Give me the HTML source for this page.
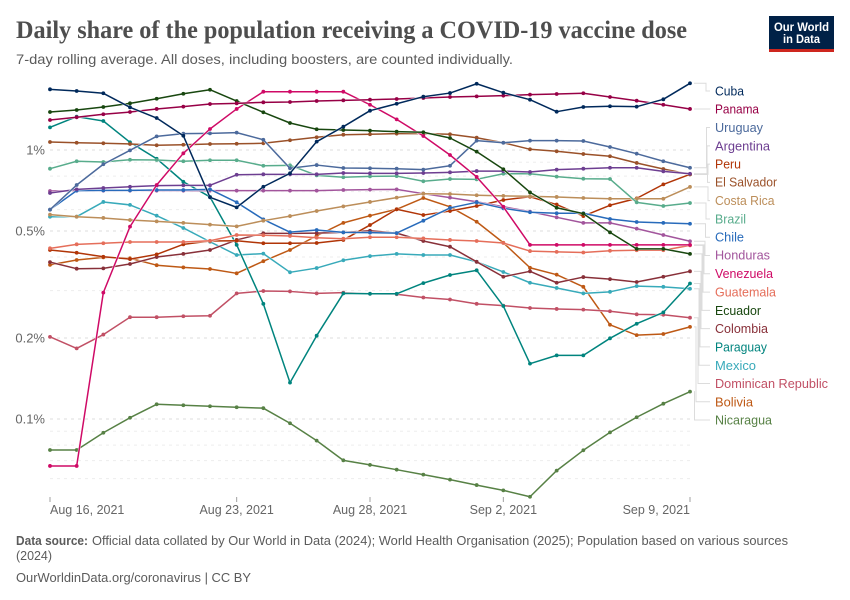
<!DOCTYPE html>
<html lang="en">
<head>
<meta charset="utf-8">
<title>Daily share of the population receiving a COVID-19 vaccine dose</title>
<style>
html,body{margin:0;padding:0;background:#fff;}
svg{display:block;font-family:"Liberation Sans",sans-serif;}
.legend text{font-size:12.5px;}
</style>
</head>
<body>
<svg id="chart" xmlns="http://www.w3.org/2000/svg" width="850" height="600" viewBox="0 0 850 600">
  <rect width="850" height="600" fill="#fff"/>
  <text x="16" y="38" font-family="'Liberation Serif',serif" font-weight="700" font-size="25" fill="#4e4e4e" textLength="671" lengthAdjust="spacingAndGlyphs">Daily share of the population receiving a COVID-19 vaccine dose</text>
  <text x="16" y="64" font-size="14" fill="#5b5b5b" textLength="497" lengthAdjust="spacingAndGlyphs">7-day rolling average. All doses, including boosters, are counted individually.</text>

  <g>
    <rect x="769" y="16" width="65" height="36" fill="#002147"/>
    <rect x="769" y="49" width="65" height="3" fill="#ce261e"/>
    <text x="801.5" y="31" text-anchor="middle" font-size="12" font-weight="700" fill="#fff" textLength="55" lengthAdjust="spacingAndGlyphs">Our World</text>
    <text x="801.5" y="43" text-anchor="middle" font-size="12" font-weight="700" fill="#fff" textLength="37" lengthAdjust="spacingAndGlyphs">in Data</text>
  </g>

  <g id="grid"></g>
  <g id="xaxis"></g>
  <g id="yaxis"></g>
  <g id="connectors"></g>
  <g id="series"></g>

  <g class="legend">
    <text x="715" y="95.5" fill="#00295b" textLength="29" lengthAdjust="spacingAndGlyphs">Cuba</text>
    <text x="715" y="113.5" fill="#970046" textLength="44" lengthAdjust="spacingAndGlyphs">Panama</text>
    <text x="715" y="132" fill="#4c6a9c" textLength="48" lengthAdjust="spacingAndGlyphs">Uruguay</text>
    <text x="715" y="150.5" fill="#6d3e91" textLength="55" lengthAdjust="spacingAndGlyphs">Argentina</text>
    <text x="715" y="168.5" fill="#b13507" textLength="26" lengthAdjust="spacingAndGlyphs">Peru</text>
    <text x="715" y="186.5" fill="#9a5129" textLength="62" lengthAdjust="spacingAndGlyphs">El Salvador</text>
    <text x="715" y="205" fill="#bc8e5a" textLength="59.5" lengthAdjust="spacingAndGlyphs">Costa Rica</text>
    <text x="715" y="223.5" fill="#58ac8c" textLength="31" lengthAdjust="spacingAndGlyphs">Brazil</text>
    <text x="715" y="241.5" fill="#286bbb" textLength="29" lengthAdjust="spacingAndGlyphs">Chile</text>
    <text x="715" y="259.5" fill="#a2559c" textLength="55" lengthAdjust="spacingAndGlyphs">Honduras</text>
    <text x="715" y="278" fill="#cf0a66" textLength="58" lengthAdjust="spacingAndGlyphs">Venezuela</text>
    <text x="715" y="296.5" fill="#e56e5a" textLength="61" lengthAdjust="spacingAndGlyphs">Guatemala</text>
    <text x="715" y="315" fill="#18470f" textLength="46" lengthAdjust="spacingAndGlyphs">Ecuador</text>
    <text x="715" y="333" fill="#883039" textLength="53" lengthAdjust="spacingAndGlyphs">Colombia</text>
    <text x="715" y="351.5" fill="#00847e" textLength="52" lengthAdjust="spacingAndGlyphs">Paraguay</text>
    <text x="715" y="370" fill="#38aaba" textLength="41" lengthAdjust="spacingAndGlyphs">Mexico</text>
    <text x="715" y="388" fill="#c15065" textLength="113" lengthAdjust="spacingAndGlyphs">Dominican Republic</text>
    <text x="715" y="406.5" fill="#be5915" textLength="38" lengthAdjust="spacingAndGlyphs">Bolivia</text>
    <text x="715" y="424.5" fill="#578145" textLength="57" lengthAdjust="spacingAndGlyphs">Nicaragua</text>
  </g>

  <g>
    <text x="16" y="545" font-size="13" font-weight="700" fill="#5b5b5b" textLength="72" lengthAdjust="spacingAndGlyphs">Data source:</text>
    <text x="92" y="545" font-size="13" fill="#5b5b5b" textLength="696" lengthAdjust="spacingAndGlyphs">Official data collated by Our World in Data (2024); World Health Organisation (2025); Population based on various sources</text>
    <text x="16" y="560" font-size="13" fill="#5b5b5b" textLength="36" lengthAdjust="spacingAndGlyphs">(2024)</text>
    <text x="16" y="582" font-size="13" fill="#5b5b5b" textLength="235" lengthAdjust="spacingAndGlyphs">OurWorldinData.org/coronavirus | CC BY</text>
  </g>
</svg>
<script>
// Days since the first plotted date (Aug 16, 2021 = day 0)
const dayOffsets = [0,1,2,3,4,5,6,7,8,9,10,11,12,13,14,15,16,17,18,19,20,21,22,23,24];
const xTickDays = [0,7,12,17,24];
const xTickLabels = ["Aug 16, 2021","Aug 23, 2021","Aug 28, 2021","Sep 2, 2021","Sep 9, 2021"];
const yTickValues = [1,0.5,0.2,0.1];
const yTickLabels = ["1%","0.5%","0.2%","0.1%"];
const gridValues = [1,0.9,0.8,0.7,0.6,0.5,0.4,0.3,0.2,0.1,0.09,0.08,0.07,0.06];

// Share of population, percent, per day
const nicaragua = [.0767,.0767,.0889,.1011,.1134,.1125,.1115,.1106,.1097,.0964,.0831,.0702,.0675,.0648,.0621,.0595,.0568,.0543,.0514,.0643,.0765,.0892,.1015,.1140,.1264];
const bolivia = [.374,.390,.399,.396,.373,.366,.361,.348,.386,.425,.480,.536,.570,.602,.663,.615,.541,.452,.365,.344,.310,.224,.205,.207,.220];
const dominicanRepublic = [.202,.183,.206,.239,.239,.241,.242,.293,.299,.298,.293,.295,.292,.291,.283,.278,.268,.264,.2585,.2565,.255,.2515,.245,.244,.238];
const mexico = [.565,.565,.641,.625,.570,.513,.456,.407,.412,.351,.364,.389,.403,.411,.407,.407,.384,.352,.321,.307,.293,.297,.312,.310,.305];
const paraguay = [1.214,1.330,1.282,1.068,.928,.762,.669,.444,.268,.1365,.204,.293,.292,.292,.320,.343,.357,.263,.1606,.1724,.1724,.1995,.226,.249,.319];
const colombia = [.383,.362,.363,.377,.400,.411,.425,.463,.490,.490,.491,.494,.501,.491,.459,.437,.384,.338,.354,.321,.337,.331,.323,.338,.354];
const ecuador = [1.384,1.408,1.445,1.491,1.551,1.619,1.675,1.521,1.381,1.260,1.194,1.187,1.180,1.170,1.164,1.108,.986,.848,.696,.610,.580,.494,.429,.429,.411];
const guatemala = [.431,.446,.450,.455,.455,.455,.460,.483,.482,.479,.472,.468,.474,.474,.469,.463,.459,.451,.421,.418,.416,.422,.424,.424,.442];
const venezuela = [.0669,.0669,.295,.519,.741,.972,1.197,1.421,1.647,1.647,1.647,1.647,1.473,1.300,1.127,.958,.794,.615,.444,.444,.444,.444,.444,.444,.444];
const honduras = [.704,.706,.706,.706,.706,.706,.706,.706,.706,.706,.706,.710,.712,.714,.688,.665,.642,.615,.590,.562,.536,.536,.510,.483,.458];
const chile = [.600,.706,.708,.708,.710,.710,.714,.639,.552,.495,.504,.494,.493,.491,.546,.609,.639,.607,.587,.582,.582,.554,.540,.536,.532];
const brazil = [.852,.908,.902,.920,.918,.908,.916,.916,.874,.877,.805,.792,.798,.800,.765,.780,.778,.816,.816,.796,.782,.780,.639,.619,.635];
const costaRica = [.575,.565,.559,.549,.543,.536,.528,.520,.546,.568,.593,.617,.641,.665,.688,.686,.679,.675,.673,.669,.663,.659,.659,.659,.729];
const elSalvador = [1.071,1.064,1.059,1.053,1.041,1.046,1.053,1.055,1.059,1.087,1.115,1.140,1.144,1.150,1.150,1.144,1.111,1.064,1.006,.989,.966,.948,.895,.850,.812];
const peru = [.425,.415,.401,.393,.409,.446,.459,.460,.450,.450,.451,.463,.526,.602,.573,.593,.619,.652,.670,.627,.568,.623,.661,.745,.812];
const argentina = [.692,.714,.722,.730,.737,.739,.739,.809,.812,.812,.812,.821,.819,.819,.821,.826,.835,.835,.828,.845,.852,.859,.859,.833,.816];
const uruguay = [.600,.741,.885,.997,1.124,1.150,1.153,1.160,1.092,.855,.879,.857,.855,.852,.845,.874,1.083,1.064,1.083,1.083,1.080,1.026,.969,.908,.859];
const panama = [1.293,1.323,1.358,1.384,1.421,1.449,1.482,1.491,1.504,1.508,1.521,1.530,1.538,1.547,1.561,1.574,1.583,1.592,1.606,1.615,1.625,1.574,1.525,1.473,1.421];
const cuba = [1.681,1.657,1.625,1.441,1.315,1.130,.667,.612,.730,.819,1.074,1.221,1.400,1.486,1.578,1.628,1.763,1.633,1.538,1.388,1.445,1.454,1.449,1.543,1.770];

const seriesList = [
  {key:"nicaragua",values:nicaragua,color:"#578145",legendRow:18,elbow:694.5},
  {key:"bolivia",values:bolivia,color:"#be5915",legendRow:17,elbow:696},
  {key:"dominican-republic",values:dominicanRepublic,color:"#c15065",legendRow:16,elbow:698},
  {key:"mexico",values:mexico,color:"#38aaba",legendRow:15,elbow:699},
  {key:"paraguay",values:paraguay,color:"#00847e",legendRow:14,elbow:700},
  {key:"colombia",values:colombia,color:"#883039",legendRow:13,elbow:701},
  {key:"peru",values:peru,color:"#b13507",legendRow:4,elbow:708},
  {key:"guatemala",values:guatemala,color:"#e56e5a",legendRow:11,elbow:703},
  {key:"honduras",values:honduras,color:"#a2559c",legendRow:9,elbow:705},
  {key:"chile",values:chile,color:"#286bbb",legendRow:8,elbow:705.5},
  {key:"costa-rica",values:costaRica,color:"#bc8e5a",legendRow:6,elbow:708},
  {key:"brazil",values:brazil,color:"#58ac8c",legendRow:7,elbow:706},
  {key:"el-salvador",values:elSalvador,color:"#9a5129",legendRow:5,elbow:707.5},
  {key:"argentina",values:argentina,color:"#6d3e91",legendRow:3,elbow:707},
  {key:"uruguay",values:uruguay,color:"#4c6a9c",legendRow:2,elbow:706.5},
  {key:"venezuela",values:venezuela,color:"#cf0a66",legendRow:10,elbow:704},
  {key:"ecuador",values:ecuador,color:"#18470f",legendRow:12,elbow:702},
  {key:"panama",values:panama,color:"#970046",legendRow:1,elbow:710},
  {key:"cuba",values:cuba,color:"#00295b",legendRow:0,elbow:706}
];

const NS = "http://www.w3.org/2000/svg";
function xScale(day){ return 50 + day * (640 / 24); }
function yScale(v){ return 150 - 269 * Math.log10(v); }
function legendY(row){ return 91 + row * 18.28; }
function make(tag, parent, attrs){
  const el = document.createElementNS(NS, tag);
  for (const k in attrs) el.setAttribute(k, attrs[k]);
  parent.appendChild(el);
  return el;
}

const gridG = document.getElementById("grid");
gridValues.forEach(function(v){
  const major = yTickValues.indexOf(v) >= 0;
  const line = make("line", gridG, {x1:50, x2:690, y1:yScale(v), y2:yScale(v), stroke: major ? "#dddddd" : "#ededed", "stroke-width":1, "stroke-dasharray":"3,4"});
  
  
});

const yG = document.getElementById("yaxis");
yTickValues.forEach(function(v, i){
  const label = make("text", yG, {x:45, y:yScale(v) + 4.5, "text-anchor":"end", "font-size":"13", fill:"#666666"});
  label.textContent = yTickLabels[i];
  
  
});

const xG = document.getElementById("xaxis");
xTickDays.forEach(function(d, i){
  const tick = make("line", xG, {x1:xScale(d), x2:xScale(d), y1:497, y2:502, stroke:"#a0a0a0", "stroke-width":1});
  
  
  const anchor = i === 0 ? "start" : (i === xTickDays.length - 1 ? "end" : "middle");
  const label = make("text", xG, {x:xScale(d), y:514, "text-anchor":anchor, "font-size":"12.5", fill:"#666666"});
  label.textContent = xTickLabels[i];
  
  
});

const connG = document.getElementById("connectors");
seriesList.forEach(function(s){
  const startY = yScale(s.values[s.values.length - 1]);
  const endY = legendY(s.legendRow);
  const d = "M694 " + startY + "H" + s.elbow + "V" + endY + "H710";
  const path = make("path", connG, {d:d, fill:"none", stroke:"#dcdcdc", "stroke-width":1});
  
  
});

const seriesG = document.getElementById("series");
seriesList.forEach(function(s){
  const g = make("g", seriesG, {});
  
  
  const points = s.values.map(function(v, i){ return xScale(dayOffsets[i]) + "," + yScale(v); }).join(" ");
  const halo = make("polyline", g, {points:points, fill:"none", stroke:"#fff", "stroke-width":2.5, "stroke-linejoin":"round", opacity:0.8});
  
  
  const line = make("polyline", g, {points:points, fill:"none", stroke:s.color, "stroke-width":1.5, "stroke-linejoin":"round"});
  
  
  s.values.forEach(function(v, i){
    const dot = make("circle", g, {cx:xScale(dayOffsets[i]), cy:yScale(v), r:1.9, fill:s.color});
    
    
  });
});
</script>
</body>
</html>
